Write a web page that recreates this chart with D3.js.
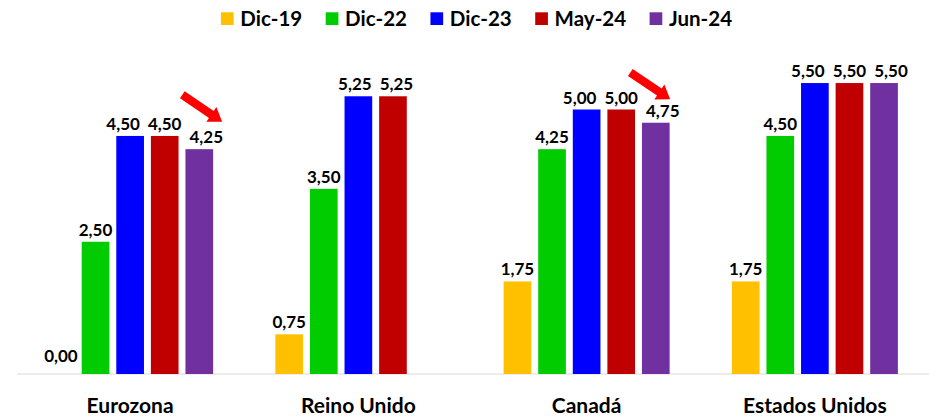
<!DOCTYPE html>
<html>
<head>
<meta charset="utf-8">
<script src="https://cdn.jsdelivr.net/npm/d3@7"></script>
<style>
  body { margin: 0; background: #fff; }
  text { font-family: Lato, "Open Sans", sans-serif; font-weight: bold; fill: #000; }
</style>
</head>
<body>
<div id="chart"></div>
<script>
// data
var countries = ["Eurozona", "Reino Unido", "Canadá", "Estados Unidos"];
var periods = ["Dic-19", "Dic-22", "Dic-23", "May-24", "Jun-24"];
var dic19 = [0.00, 0.75, 1.75, 1.75];
var dic22 = [2.50, 3.50, 4.25, 4.50];
var dic23 = [4.50, 5.25, 5.00, 5.50];
var may24 = [4.50, 5.25, 5.00, 5.50];
var jun24 = [4.25, null, 4.75, 5.50];
var colors = ["#FFC000", "#00CC00", "#0000FF", "#C00000", "#7030A0"];
// red arrows pointing at the June cuts
var arrows = ["Eurozona", "Canadá"];

var series = [dic19, dic22, dic23, may24, jun24];

var svgWidth = 929;
var svgHeight = 417;

var svg = d3.select("#chart")
    .append("svg")
    .attr("width", svgWidth)
    .attr("height", svgHeight);

var x0 = d3.scaleBand()
    .domain(countries)
    .range([16, 929]);

var x1 = d3.scaleBand()
    .domain(periods)
    .range([0, x0.bandwidth()])
    .paddingInner(0.2)
    .paddingOuter(0.9);

var y = d3.scaleLinear()
    .domain([0, 6])
    .range([374, 56.6]);

var fmt = v => d3.format(".2f")(v).replace(".", ",");

var data = [];
countries.forEach((c, i) => {
    periods.forEach((p, j) => {
        if (series[j][i] != null) data.push({ country: c, period: p, value: series[j][i], color: colors[j] });
    });
});

// baseline
svg.append("line")
    .attr("x1", 17)
    .attr("x2", 929)
    .attr("y1", y(0))
    .attr("y2", y(0))
    .attr("stroke", "#D9D9D9")
    .attr("stroke-width", 1.2);

var bars = svg.selectAll("g.bar")
    .data(data)
    .enter()
    .append("g")
    .classed("bar", true);

bars.append("rect")
    .attr("x", d => x0(d.country) + x1(d.period))
    .attr("y", d => y(d.value))
    .attr("width", x1.bandwidth())
    .attr("height", d => y(0) - y(d.value))
    .attr("fill", d => d.color);

var labels = bars.append("text")
    .attr("y", d => y(d.value) - (d.value == 0 ? 12 : 6))
    .attr("text-anchor", "middle")
    .attr("font-size", "17px")
    .text(d => fmt(d.value));

// spread labels that would overlap, like the spreadsheet does
labels.each(function (d) {
    d.lx = x0(d.country) + x1(d.period) + x1.bandwidth() / 2;
    d.ly = y(d.value);
    d.lw = this.getComputedTextLength();
});
countries.forEach(c => {
    var group = data.filter(d => d.country == c);
    for (var k = 0; k < 30; k++) {
        for (var i = 0; i < group.length - 1; i++) {
            var a = group[i], b = group[i + 1];
            if (Math.abs(a.ly - b.ly) < 18) {
                var need = (a.lw + b.lw) / 2 + 8;
                var gap = b.lx - a.lx;
                if (gap < need) {
                    a.lx -= (need - gap) / 2;
                    b.lx += (need - gap) / 2;
                }
            }
        }
    }
});
labels.attr("x", d => d.lx);

// category labels
svg.selectAll("text.cat")
    .data(countries)
    .enter()
    .append("text")
    .classed("cat", true)
    .attr("x", d => x0(d) + x0.bandwidth() / 2)
    .attr("y", 412.5)
    .attr("text-anchor", "middle")
    .attr("font-size", "21px")
    .text(d => d);

// legend
var legend = svg.append("g");
var lx = 0;
periods.forEach((p, i) => {
    var item = legend.append("g").attr("transform", `translate(${lx}, 0)`);
    item.append("rect")
        .attr("x", 0)
        .attr("y", 12.3)
        .attr("width", 12.7)
        .attr("height", 12.7)
        .attr("fill", colors[i]);
    var t = item.append("text")
        .attr("x", 19.4)
        .attr("y", 26)
        .attr("font-size", "20.5px")
        .text(p);
    lx += 19.4 + t.node().getComputedTextLength() + 23.5;
});
var legendWidth = lx - 23.5;
legend.attr("transform", `translate(${476.5 - legendWidth / 2}, 0)`);

// arrows
var arrowShape = [[0, -4.2], [35, -4.2], [35, -9], [48, 0], [35, 9], [35, 4.2], [0, 4.2]];
var jun = periods[4];
svg.selectAll("polygon.arrow")
    .data(arrows)
    .enter()
    .append("polygon")
    .classed("arrow", true)
    .attr("points", arrowShape.map(p => p.join(",")).join(" "))
    .attr("fill", "#FF0000")
    .attr("transform", (d, i) => {
        var v = jun24[countries.indexOf(d)];
        var tipX = x0(d) + x1(jun) + x1.bandwidth() + (i == 0 ? 9 : 0.5);
        var tipY = y(v) - (i == 0 ? 27.5 : 23.4);
        return `translate(${tipX}, ${tipY}) rotate(34) translate(-48, 0)`;
    });
</script>
</body>
</html>
